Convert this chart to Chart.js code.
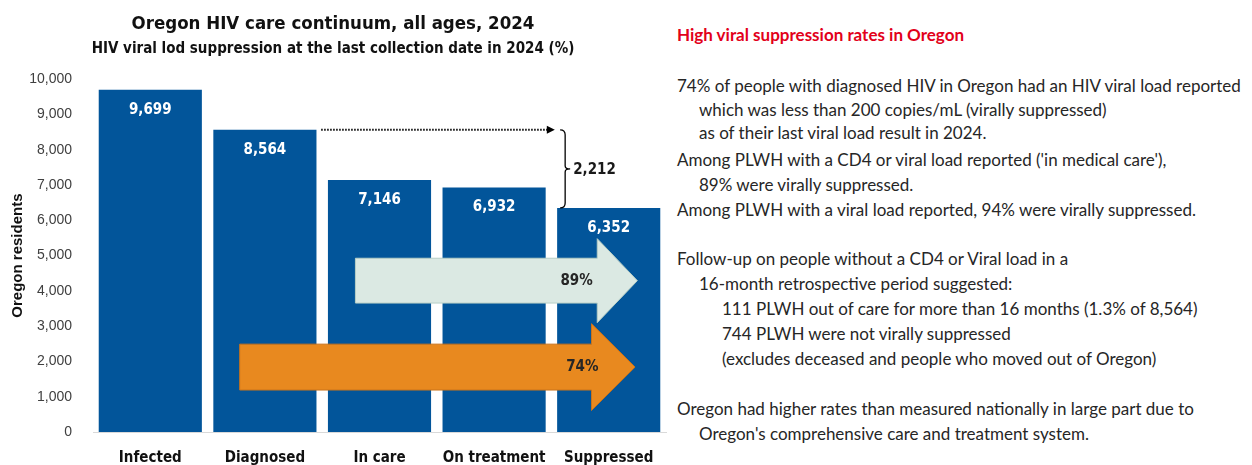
<!DOCTYPE html>
<html>
<head>
<meta charset="utf-8">
<script src="https://cdn.jsdelivr.net/npm/chart.js@4.4.1/dist/chart.umd.min.js"></script>
<style>
  html, body { margin: 0; padding: 0; background: #ffffff; }
  body { width: 1252px; height: 465px; position: relative; overflow: hidden; }
  #chartWrap { position: absolute; left: 0; top: 0; width: 670px; height: 465px; }
  .note { position: absolute; left: 677px; font-family: Lato, 'Noto Sans', sans-serif; font-size: 17px; color: #262626; line-height: 20px; white-space: nowrap; }
  .note.head { color: #e2001a; font-weight: bold; }
</style>
</head>
<body>
<div id="chartWrap"><canvas id="c"></canvas></div>
<div id="notes"></div>
<script>
// ---- data ----
const categories = ['Infected', 'Diagnosed', 'In care', 'On treatment', 'Suppressed'];
const residents = [9699, 8564, 7146, 6932, 6352];
const gapValue = 2212;             // Diagnosed - Suppressed
const pctInCare = '89%';
const pctDiagnosed = '74%';
const chartTitle = 'Oregon HIV care continuum, all ages, 2024';
const chartSubtitle = 'HIV viral lod suppression at the last collection date in 2024 (%)';
const yAxisTitle = 'Oregon residents';
const noteTitle = 'High viral suppression rates in Oregon';
const noteLines = [
  ['74% of people with diagnosed HIV in Oregon had an HIV viral load reported', 0],
  ['which was less than 200 copies/mL (virally suppressed)', 1],
  ['as of their last viral load result in 2024.', 1],
  ["Among PLWH with a CD4 or viral load reported ('in medical care'),", 0],
  ['89% were virally suppressed.', 1],
  ['Among PLWH with a viral load reported, 94% were virally suppressed.', 0],
  ['Follow-up on people without a CD4 or Viral load in a', 0],
  ['16-month retrospective period suggested:', 1],
  ['111 PLWH out of care for more than 16 months (1.3% of 8,564)', 2],
  ['744 PLWH were not virally suppressed', 2],
  [' (excludes deceased and people who moved out of Oregon)', 2],
  ['Oregon had higher rates than measured nationally in large part due to', 0],
  ["Oregon's comprehensive care and treatment system.", 1]
];

// ---- layout of the right-hand notes (positions only) ----
const noteCenters = [86, 110, 133, 160, 185, 210, 259, 284, 309, 334, 359, 409, 434];
const indentPx = [0, 22, 45];
(function buildNotes() {
  const host = document.getElementById('notes');
  const h = document.createElement('div');
  h.className = 'note head';
  h.style.top = (35 - 10) + 'px';
  h.textContent = noteTitle;
  host.appendChild(h);
  noteLines.forEach((ln, i) => {
    const d = document.createElement('div');
    d.className = 'note';
    d.style.top = (noteCenters[i] - 10) + 'px';
    d.style.left = (677 + indentPx[ln[1]]) + 'px';
    d.textContent = ln[0];
    host.appendChild(d);
  });
})();

// ---- annotation geometry in scale units (x = category index, y = residents) ----
const arrowsGeom = [
  { label: pctInCare, fill: '#dbe9e3', stroke: '#b8cfc6', x0: 1.79, xh: 3.90, xt: 4.25,
    yc: 4290, bodyHalf: 635, headHalf: 1190, lx: 3.72 },
  { label: pctDiagnosed, fill: '#e8891f', stroke: '#c9721a', x0: 0.78, xh: 3.85, xt: 4.23,
    yc: 1840, bodyHalf: 650, headHalf: 1230, lx: 3.77 }
];
const gapGeom = { x0: 1.465, x1: 3.53, xb: 3.62 };

const condensed = "'Liberation Sans Narrow', 'DejaVu Sans Condensed', Roboto, sans-serif";
const fmt = v => v.toLocaleString('en-US');

const overlayPlugin = {
  id: 'overlay',
  afterDatasetsDraw(chart) {
    const ctx = chart.ctx;
    const xs = chart.scales.x, ys = chart.scales.y;
    const meta = chart.getDatasetMeta(0);
    ctx.save();
    // value labels
    ctx.fillStyle = '#ffffff';
    ctx.font = 'bold 15px ' + condensed;
    ctx.textAlign = 'center';
    ctx.textBaseline = 'middle';
    meta.data.forEach((bar, i) => {
      ctx.fillText(fmt(residents[i]), bar.x, bar.y + 20);
    });
    // arrows
    arrowsGeom.forEach(a => {
      const X0 = xs.getPixelForValue(a.x0), XH = xs.getPixelForValue(a.xh), XT = xs.getPixelForValue(a.xt);
      const YC = ys.getPixelForValue(a.yc);
      const BT = ys.getPixelForValue(a.yc + a.bodyHalf), BB = ys.getPixelForValue(a.yc - a.bodyHalf);
      const HT = ys.getPixelForValue(a.yc + a.headHalf), HB = ys.getPixelForValue(a.yc - a.headHalf);
      ctx.beginPath();
      ctx.moveTo(X0, BT); ctx.lineTo(XH, BT); ctx.lineTo(XH, HT); ctx.lineTo(XT, YC);
      ctx.lineTo(XH, HB); ctx.lineTo(XH, BB); ctx.lineTo(X0, BB); ctx.closePath();
      ctx.fillStyle = a.fill; ctx.fill();
      ctx.lineWidth = 1; ctx.strokeStyle = a.stroke; ctx.stroke();
      ctx.fillStyle = '#262626';
      ctx.font = 'bold 15px ' + condensed;
      ctx.textAlign = 'center';
      ctx.fillText(a.label, xs.getPixelForValue(a.lx), YC);
    });
    // dotted arrow + bracket
    const yTop = ys.getPixelForValue(residents[1]);
    const yBot = ys.getPixelForValue(residents[4]);
    const yMid = (yTop + yBot) / 2;
    const dx0 = xs.getPixelForValue(gapGeom.x0) + 3, dx1 = xs.getPixelForValue(gapGeom.x1);
    ctx.strokeStyle = '#000'; ctx.fillStyle = '#000';
    ctx.lineWidth = 2;
    ctx.setLineDash([1.5, 1.5]);
    ctx.beginPath(); ctx.moveTo(dx0, yTop); ctx.lineTo(dx1 - 6, yTop); ctx.stroke();
    ctx.setLineDash([]);
    ctx.beginPath(); ctx.moveTo(dx1, yTop); ctx.lineTo(dx1 - 8, yTop - 4); ctx.lineTo(dx1 - 8, yTop + 4); ctx.closePath(); ctx.fill();
    const xb = xs.getPixelForValue(gapGeom.xb);
    ctx.lineWidth = 1.3;
    ctx.beginPath();
    ctx.moveTo(xb - 5, yTop); ctx.quadraticCurveTo(xb, yTop, xb, yTop + 5);
    ctx.lineTo(xb, yMid - 3); ctx.quadraticCurveTo(xb, yMid, xb + 5, yMid);
    ctx.quadraticCurveTo(xb, yMid, xb, yMid + 3);
    ctx.lineTo(xb, yBot - 5); ctx.quadraticCurveTo(xb, yBot, xb - 5, yBot);
    ctx.stroke();
    ctx.font = 'bold 15px ' + condensed;
    ctx.textAlign = 'left';
    ctx.fillStyle = '#1a1a1a';
    ctx.fillText(fmt(gapValue), xb + 8, yMid + 1);
    ctx.restore();
  }
};

new Chart(document.getElementById('c'), {
  type: 'bar',
  data: {
    labels: categories,
    datasets: [{
      data: residents,
      backgroundColor: '#02559a',
      borderWidth: 0,
      barPercentage: 0.9,
      categoryPercentage: 1.0
    }]
  },
  options: {
    responsive: true,
    maintainAspectRatio: false,
    animation: false,
    events: [],
    layout: { padding: { left: 0, right: 4, top: 0, bottom: 0 } },
    plugins: {
      legend: { display: false },
      tooltip: { enabled: false },
      title: {
        display: true, text: chartTitle, color: '#111',
        font: { family: condensed, size: 18.5, weight: 'bold' },
        padding: { top: 13, bottom: 5 }
      },
      subtitle: {
        display: true, text: chartSubtitle, color: '#111',
        font: { family: condensed, size: 15, weight: 'bold' },
        padding: { top: 0, bottom: 21 }
      }
    },
    scales: {
      x: {
        grid: { display: false },
        border: { display: true, color: '#d9d9d9', width: 1 },
        ticks: { color: '#111', font: { family: condensed, size: 15, weight: 'bold' }, padding: 9, maxRotation: 0, autoSkip: false },
        afterFit: s => { s.height = 33; }
      },
      y: {
        min: 0, max: 10000,
        grid: { display: false },
        border: { display: false },
        ticks: { stepSize: 1000, color: '#404040', font: { family: "'Liberation Sans', Roboto, sans-serif", size: 14 }, padding: 13,
                 callback: v => fmt(v) },
        title: { display: true, text: yAxisTitle, color: '#111', font: { family: "'Liberation Sans', Roboto, sans-serif", size: 15, weight: 'bold' }, padding: { top: 9, bottom: 0 } },
        afterFit: s => { s.width = 93; }
      }
    }
  },
  plugins: [overlayPlugin]
});
</script>
</body>
</html>
